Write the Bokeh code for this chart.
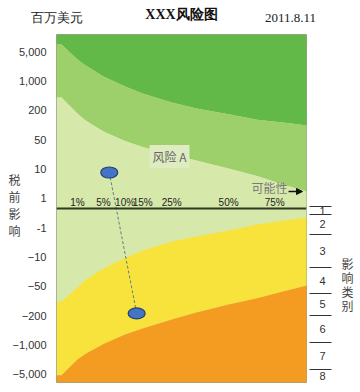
from bokeh.plotting import figure
from bokeh.models import Range1d, FixedTicker, LinearAxis, Span, Label, Arrow, NormalHead
from bokeh.core.properties import value
from bokeh.embed import file_html
from bokeh.resources import INLINE

# ---------------- data ----------------
impact_labels = ["5,000", "1,000", "200", "50", "10", "1",
                 "-1", "\u221210", "\u221250", "\u2212200", "\u22121,000", "\u22125,000"]
impact_levels = list(range(11, -1, -1))          # level index of each impact label

prob_ticks = [1, 5, 10, 15, 25, 50, 75]
prob_tick_labels = ["1%", "5%", "10%", "15%", "25%", "50%", "75%"]

# zone boundaries (impact level) sampled at these probabilities (%)
zone_prob = [0, 1, 2, 5, 10, 15, 25, 35, 50, 65, 80, 95]
zone_dark_green = [11.24, 10.73, 10.52, 10.15, 9.81, 9.57, 9.26, 9.06, 8.86, 8.68, 8.58, 8.48]
zone_mid_green = [9.43, 8.89, 8.65, 8.28, 7.95, 7.75, 7.49, 7.29, 7.02, 6.76, 6.47, 6.23]
zone_yellow = [2.49, 2.96, 3.23, 3.61, 3.98, 4.22, 4.53, 4.70, 4.90, 5.11, 5.24, 5.35]
zone_orange = [-0.03, 0.51, 0.71, 1.04, 1.36, 1.57, 1.87, 2.11, 2.38, 2.60, 2.83, 3.03]

risk_name = "风险 A"
risk_prob = [6.2, 13.2]
risk_level = [6.88, 2.08]

category_labels = ["1", "2", "3", "4", "5", "6", "7", "8"]
category_bounds = [5.72, 5.45, 4.77, 3.64, 2.76, 2.01, 1.09, 0.17]
prob_axis_level = 5.65

title_text = "XXX风险图"
unit_text = "百万美元"
date_text = "2011.8.11"
y_title = "税前影响"
cat_title = "影响类别"

# ---------------- scales ----------------
X_EXP = 0.6
def xpos(p):
    return p ** X_EXP

X0, X1 = -0.313, 15.33
Y0, Y1 = -0.273, 11.58

# page pixel -> data helpers for annotation placement
def dx(px):
    return round((px - 62) / 15.98, 4)
def dy(py):
    return round(5.5 + (213.5 - py) / 29.36, 4)

p = figure(frame_width=250, frame_height=348, x_range=Range1d(X0, X1), y_range=Range1d(Y0, Y1),
           output_backend="svg", toolbar_location=None, x_axis_location=None,
           min_border_left=56, min_border_right=0, min_border_top=34, min_border_bottom=3)
p.grid.visible = False
p.outline_line_color = "#9aa587"
p.background_fill_color = "#d7e8ab"
p.border_fill_color = "white"

xs = [X0] + [xpos(v) for v in zone_prob]
def ext(arr):
    return [arr[0]] + list(arr)

top = [Y1] * len(xs)
bot = [Y0] * len(xs)
p.varea(x=xs, y1=ext(zone_dark_green), y2=top, fill_color="#62b947")
p.varea(x=xs, y1=ext(zone_mid_green), y2=ext(zone_dark_green), fill_color="#9dcf6a")
p.varea(x=xs, y1=ext(zone_yellow), y2=ext(zone_mid_green), fill_color="#d7e8ab")
p.varea(x=xs, y1=ext(zone_orange), y2=ext(zone_yellow), fill_color="#f8e33c")
p.varea(x=xs, y1=bot, y2=ext(zone_orange), fill_color="#f49b22")

# probability axis line
p.add_layout(Span(location=prob_axis_level, dimension="width", line_color="#2b3a20", line_width=2))
p.text(x=[xpos(v) for v in prob_ticks], y=[prob_axis_level] * len(prob_ticks), text=prob_tick_labels,
       text_align="center", text_baseline="bottom", y_offset=-1,
       text_font=value("Liberation Sans"), text_font_size="10px", text_color="#222222")

# risk A movement
rx = [xpos(v) for v in risk_prob]
p.line(x=rx, y=risk_level, line_color="#5f7f8c", line_width=1, line_dash="3 2")
p.ellipse(x=rx, y=risk_level, width=17, height=11, width_units="screen", height_units="screen",
          fill_color="#4474c6", line_color="#23406f", line_width=1.2)

def plain_axis(ax, font, size, color, standoff):
    ax.major_tick_out = 0
    ax.major_tick_in = 0
    ax.minor_tick_out = 0
    ax.minor_tick_in = 0
    ax.axis_line_color = None
    ax.major_label_standoff = standoff
    ax.major_label_text_font = font
    ax.major_label_text_font_size = size
    ax.major_label_text_color = color

# left axis: impact values
ya = p.yaxis[0]
ya.ticker = FixedTicker(ticks=impact_levels, minor_ticks=[])
ya.major_label_overrides = {lv: lab for lv, lab in zip(impact_levels, impact_labels)}
plain_axis(ya, "Liberation Sans", "11px", "#333333", 10)

# second left axis: stacked axis title characters
yt_ticks = [dy(180 + 17 * i) for i in range(len(y_title))]
yt = LinearAxis(ticker=FixedTicker(ticks=yt_ticks, minor_ticks=[]),
                major_label_overrides={t: ch for t, ch in zip(yt_ticks, y_title)})
plain_axis(yt, "Noto Sans CJK SC", "12px", "#444444", -11)
p.add_layout(yt, "left")

# right axis: impact categories
cat_edges = category_bounds + [Y0]
cat_centers = [round((cat_edges[i] + cat_edges[i + 1]) / 2, 3) for i in range(len(category_labels))]
ra = LinearAxis(ticker=FixedTicker(ticks=cat_centers, minor_ticks=category_bounds),
                major_label_overrides={c: lab for c, lab in zip(cat_centers, category_labels)})
plain_axis(ra, "Liberation Sans", "11px", "#333333", -12)
ra.minor_tick_out = 25
ra.minor_tick_in = -3
ra.minor_tick_line_color = "#333333"
p.add_layout(ra, "right")

# second right axis: stacked category title characters
ct_ticks = [dy(264 + 14 * i) for i in range(len(cat_title))]
ct = LinearAxis(ticker=FixedTicker(ticks=ct_ticks, minor_ticks=[]),
                major_label_overrides={t: ch for t, ch in zip(ct_ticks, cat_title)})
plain_axis(ct, "Noto Sans CJK SC", "12px", "#444444", 13)
p.add_layout(ct, "right")

# top axis: unit, date and chart title
top_ticks = [round(X0 + 0.0001, 4), dx(291)]
ta = LinearAxis(ticker=FixedTicker(ticks=top_ticks, minor_ticks=[]),
                major_label_overrides={top_ticks[0]: unit_text, top_ticks[1]: date_text},
                axis_label=title_text)
plain_axis(ta, "Liberation Serif", "13px", "#222222", 10)
ta.axis_label_text_font = "Liberation Serif"
ta.axis_label_text_font_style = "bold"
ta.axis_label_text_font_size = "14px"
ta.axis_label_text_color = "#111111"
ta.axis_label_standoff = -15
p.add_layout(ta, "above")

# in-plot labels
p.add_layout(Label(x=dx(170), y=dy(157), text=risk_name, text_align="center", text_baseline="middle",
                   text_font="Noto Sans CJK SC", text_font_size="12px", text_color="#666666",
                   background_fill_color="#dfebc0", padding=3))
p.add_layout(Label(x=dx(270), y=dy(188), text="可能性", text_align="center", text_baseline="middle",
                   text_font="Noto Sans CJK SC", text_font_size="12px", text_color="#7a7a7a"))
p.add_layout(Arrow(x_start=dx(289), y_start=dy(192), x_end=dx(303), y_end=dy(192),
                   line_color="#111111", line_width=1.5,
                   end=NormalHead(size=6, fill_color="#111111", line_color="#111111")))

open("out.html", "w").write(file_html(p, INLINE))
